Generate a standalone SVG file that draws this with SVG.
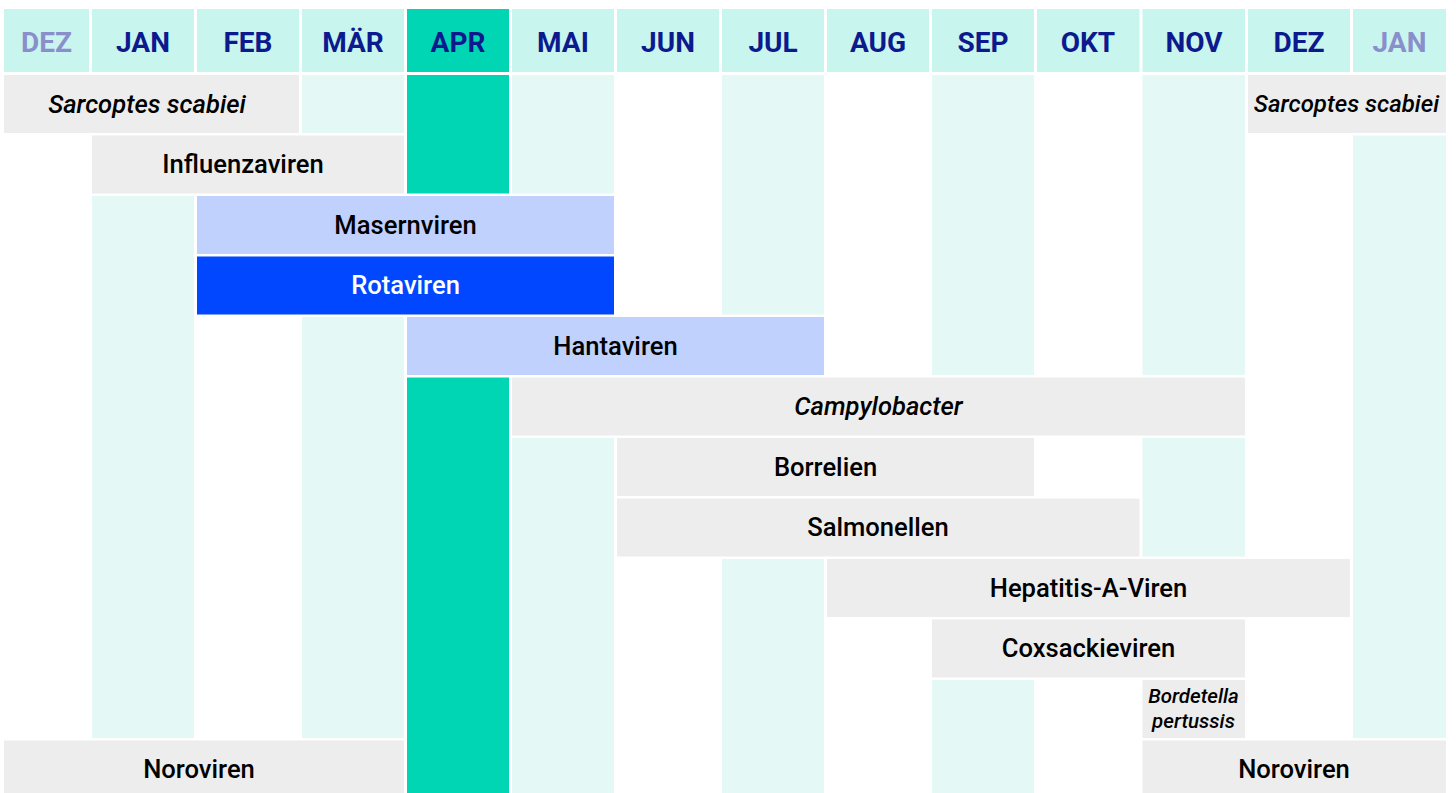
<svg xmlns="http://www.w3.org/2000/svg" width="1456" height="793" viewBox="0 0 1456 793">
<style>
.hd{fill:#C9F5EF}
.hdA{fill:#00D6B4}
.ht{font-family:Roboto,"Liberation Sans",sans-serif;font-weight:700;font-size:28px;fill:#0C1A8E;text-anchor:middle}
.htl{fill:#8A8FCC}
.st{fill:#E4F9F6}
.ap{fill:#00D6B4}
.g{fill:#EDEDED}
.lb{fill:#C0D1FE}
.bl{fill:#0047FF}
.t{font-family:Roboto,"Liberation Sans",sans-serif;font-weight:500;font-size:25.6px;fill:#000;text-anchor:middle}
.i{font-style:italic}
.w{fill:#FFFFFF}
.s{font-size:20.5px}
.m{font-size:24px}
</style>
<rect width="1456" height="793" fill="#FFFFFF"/>
<g id="header">
<rect class="hd" x="4" y="9" width="85" height="63"/>
<rect class="hd" x="92" y="9" width="102" height="63"/>
<rect class="hd" x="197" y="9" width="102" height="63"/>
<rect class="hd" x="302" y="9" width="102" height="63"/>
<rect class="hdA" x="407" y="9" width="102" height="63"/>
<rect class="hd" x="512" y="9" width="102" height="63"/>
<rect class="hd" x="617" y="9" width="102" height="63"/>
<rect class="hd" x="722" y="9" width="102" height="63"/>
<rect class="hd" x="827" y="9" width="102" height="63"/>
<rect class="hd" x="932" y="9" width="102" height="63"/>
<rect class="hd" x="1037" y="9" width="102.5" height="63"/>
<rect class="hd" x="1142.5" y="9" width="102.5" height="63"/>
<rect class="hd" x="1248" y="9" width="102" height="63"/>
<rect class="hd" x="1353" y="9" width="93" height="63"/>
<text class="ht htl" x="46.5" y="51.5">DEZ</text>
<text class="ht" x="143" y="51.5">JAN</text>
<text class="ht" x="248" y="51.5">FEB</text>
<text class="ht" x="353" y="51.5">MÄR</text>
<text class="ht" x="458" y="51.5">APR</text>
<text class="ht" x="563" y="51.5">MAI</text>
<text class="ht" x="668" y="51.5">JUN</text>
<text class="ht" x="773" y="51.5">JUL</text>
<text class="ht" x="878" y="51.5">AUG</text>
<text class="ht" x="983" y="51.5">SEP</text>
<text class="ht" x="1088" y="51.5">OKT</text>
<text class="ht" x="1194" y="51.5">NOV</text>
<text class="ht" x="1299" y="51.5">DEZ</text>
<text class="ht htl" x="1399.5" y="51.5">JAN</text>
</g>
<g id="stripes">
<rect class="st" x="92" y="196" width="102" height="542"/>
<rect class="st" x="302" y="75" width="102" height="58"/>
<rect class="st" x="302" y="317" width="102" height="421"/>
<rect class="ap" x="407" y="75" width="102" height="118.5"/>
<rect class="ap" x="407" y="377.5" width="102" height="415.5"/>
<rect class="st" x="512" y="75" width="102" height="118.5"/>
<rect class="st" x="512" y="438" width="102" height="355"/>
<rect class="st" x="722" y="75" width="102" height="239.5"/>
<rect class="st" x="722" y="559" width="102" height="234"/>
<rect class="st" x="932" y="75" width="102" height="300"/>
<rect class="st" x="932" y="680" width="102" height="113"/>
<rect class="st" x="1142.5" y="75" width="102.5" height="300"/>
<rect class="st" x="1142.5" y="438" width="102.5" height="118.5"/>
<rect class="st" x="1353" y="135.5" width="93" height="602.5"/>
</g>
<g id="sarcoptes-1">
<rect class="g" x="4" y="75" width="295" height="58"/>
<text class="t i" x="147" y="112.5">Sarcoptes scabiei</text>
</g>
<g id="sarcoptes-2">
<rect class="g" x="1248" y="75" width="198" height="58"/>
<text class="t i m" x="1346.5" y="112">Sarcoptes scabiei</text>
</g>
<g id="influenza">
<rect class="g" x="92" y="135.5" width="312" height="58"/>
<text class="t" x="243" y="173">Influenzaviren</text>
</g>
<g id="masern">
<rect class="lb" x="197" y="196" width="417" height="58"/>
<text class="t" x="405.5" y="233.5">Masernviren</text>
</g>
<g id="rota">
<rect class="bl" x="197" y="256.5" width="417" height="58"/>
<text class="t w" x="405.5" y="294">Rotaviren</text>
</g>
<g id="hanta">
<rect class="lb" x="407" y="317" width="417" height="58"/>
<text class="t" x="615.5" y="354.5">Hantaviren</text>
</g>
<g id="campylobacter">
<rect class="g" x="512" y="377.5" width="733" height="58"/>
<text class="t i" x="878.5" y="415">Campylobacter</text>
</g>
<g id="borrelien">
<rect class="g" x="617" y="438" width="417" height="58"/>
<text class="t" x="825.5" y="475.5">Borrelien</text>
</g>
<g id="salmonellen">
<rect class="g" x="617" y="498.5" width="522.5" height="58"/>
<text class="t" x="878" y="536">Salmonellen</text>
</g>
<g id="hepatitis">
<rect class="g" x="827" y="559" width="523" height="58"/>
<text class="t" x="1088.5" y="596.5">Hepatitis-A-Viren</text>
</g>
<g id="coxsackie">
<rect class="g" x="932" y="619.5" width="313" height="58"/>
<text class="t" x="1088.5" y="657">Coxsackieviren</text>
</g>
<g id="bordetella">
<rect class="g" x="1142.5" y="680" width="102.5" height="58"/>
<text class="t i s" x="1193.5" y="703">Bordetella</text>
<text class="t i s" x="1193.5" y="728">pertussis</text>
</g>
<g id="noro-1">
<rect class="g" x="4" y="740.5" width="400" height="53"/>
<text class="t" x="199" y="778">Noroviren</text>
</g>
<g id="noro-2">
<rect class="g" x="1142.5" y="740.5" width="303.5" height="53"/>
<text class="t" x="1294" y="778">Noroviren</text>
</g>
<g id="connectors"/>
</svg>
